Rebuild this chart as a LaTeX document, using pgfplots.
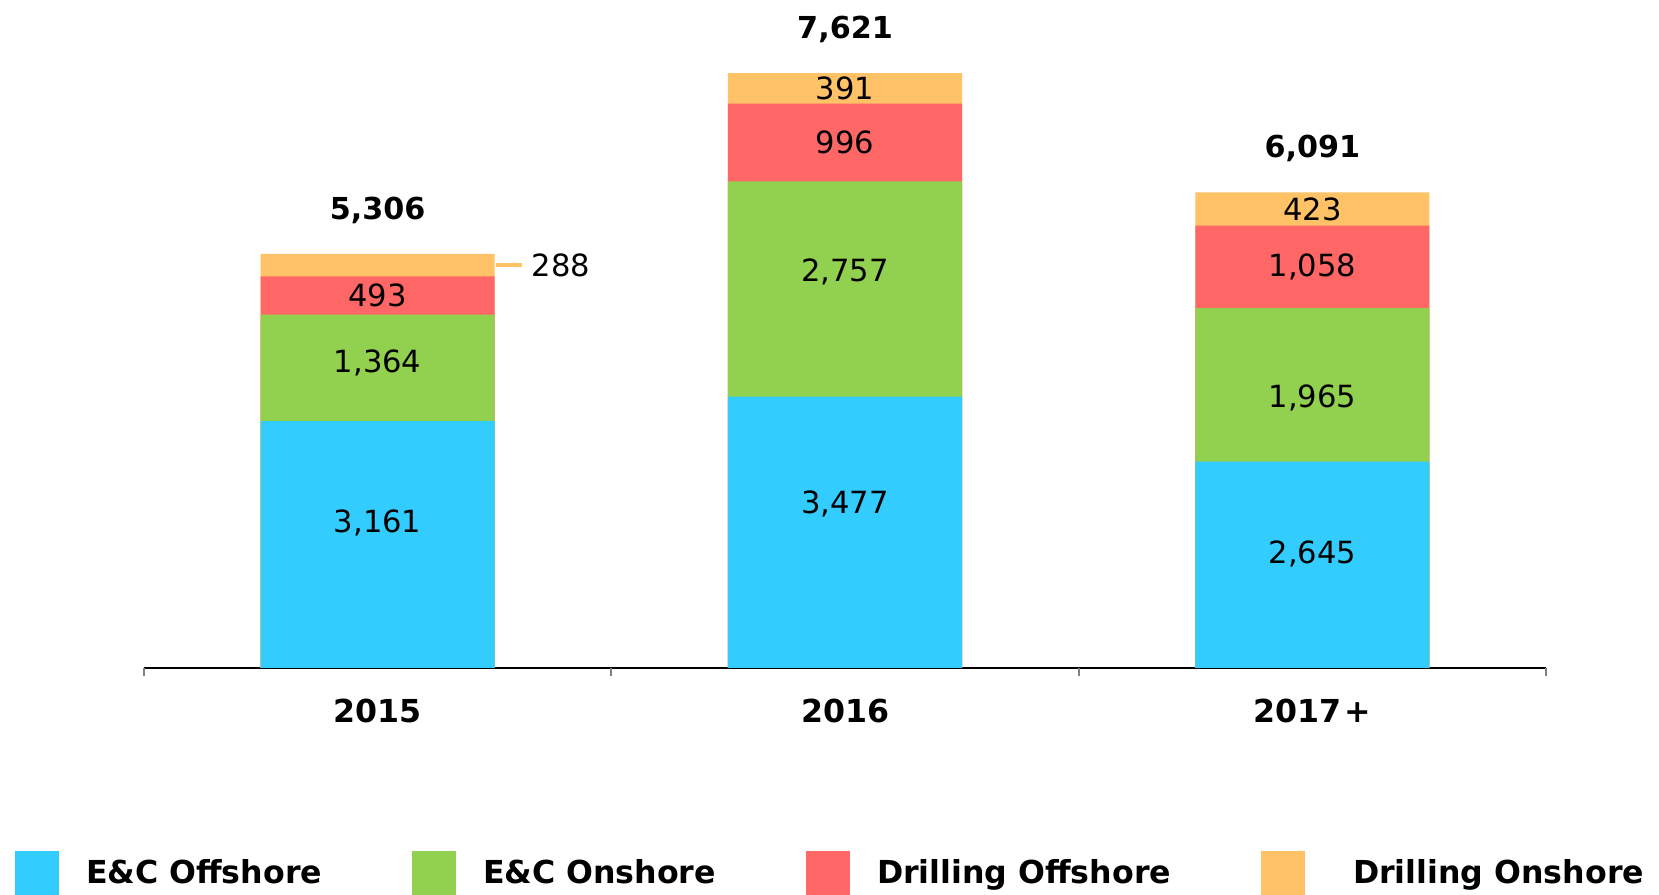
\documentclass[border=0pt]{standalone}
\usepackage{fontspec}
\setmainfont{DejaVu Sans}
\usepackage{pgfplots}
\usepackage{pgfplotstable}
\pgfplotsset{compat=1.18}

\definecolor{cOff}{HTML}{33CCFF}
\definecolor{cOn}{HTML}{92D050}
\definecolor{cDOff}{HTML}{FF6666}
\definecolor{cDOn}{HTML}{FFC266}

% backlog by segment; offlab/onlab = where the big segment labels sit
\pgfplotstableread{
x  off   on    doff  don  tot   offlab  onlab
0  3161  1364  493   288  5306  1858    3906
1  3477  2757  996   391  7621  2102    5072
2  2645  1965  1058  423  6091  1465    3458
}\backlog

\begin{document}
\begin{tikzpicture}
\useasboundingbox (-40.97pt,-64.58pt) rectangle (431.03pt,190.05pt);
\begin{axis}[
  scale only axis, width=398.9pt, height=188.8pt,
  xmin=-0.5, xmax=2.5, ymin=0, ymax=8500,
  clip=false,
  axis x line*=bottom, axis y line=none,
  x axis line style={-, line width=0.6pt, black},
  xtick={0,1,2}, xticklabels={2015,2016,2017\kern0.8pt+},
  major tick length=0pt,
  xticklabel style={font=\fontsize{9}{10}\selectfont\bfseries, anchor=center, yshift=-12.2pt},
  extra x ticks={-0.5,0.5,1.5,2.5}, extra x tick labels={},
  extra x tick style={major tick length=2.2pt, tick align=outside, tick style={draw=gray, line width=0.5pt}},
  ytick=\empty,
  /pgf/number format/fixed, /pgf/number format/precision=0,
  /pgf/number format/1000 sep={,}, /pgf/number format/assume math mode=true,
  every node near coord/.append style={font=\fontsize{8.7}{10}\selectfont, inner sep=0pt, text=black},
  legend image code/.code={\fill[#1, draw=none] (0pt,-5.8pt) rectangle (12.6pt,6.8pt);},
  legend columns=4,
  legend style={at={(axis description cs:-0.092,0)}, anchor=south west, yshift=-64.58pt,
    draw=none, fill=none, inner sep=0pt, outer sep=0pt,
    nodes={inner sep=0pt}, font=\fontsize{9}{10}\selectfont\bfseries,
    /tikz/every odd column/.append style={column sep=7.6pt},
    /tikz/every even column/.append style={column sep=25.6pt}},
  legend cell align=left,
]
\addlegendimage{fill=cOff}
\addlegendentry{E\&C Offshore}
\addlegendimage{fill=cOn}
\addlegendentry{E\&C Onshore}
\addlegendimage{fill=cDOff}
\addlegendentry{Drilling Offshore}
\addlegendimage{fill=cDOn}
\addlegendentry{\hspace{6pt}Drilling Onshore}

% bars, drawn from the full total down so each segment covers the one above
\addplot[ybar, bar width=66.6pt, bar shift=0pt, fill=cDOn, draw=none, forget plot]
  table[x=x, y=tot]{\backlog};
\addplot[ybar, bar width=66.6pt, bar shift=0pt, fill=cDOff, draw=none, forget plot]
  table[x=x, y expr=\thisrow{off}+\thisrow{on}+\thisrow{doff}]{\backlog};
\addplot[ybar, bar width=66.6pt, bar shift=0pt, fill=cOn, draw=none, forget plot]
  table[x=x, y expr=\thisrow{off}+\thisrow{on}]{\backlog};
\addplot[ybar, bar width=66.6pt, bar shift=0pt, fill=cOff, draw=none, forget plot]
  table[x=x, y=off]{\backlog};

% segment labels
\addplot[draw=none, mark=none, forget plot, nodes near coords, nodes near coords align={center},
  point meta=\thisrow{off}] table[x=x, y=offlab]{\backlog};
\addplot[draw=none, mark=none, forget plot, nodes near coords, nodes near coords align={center},
  point meta=\thisrow{on}] table[x=x, y=onlab]{\backlog};
\addplot[draw=none, mark=none, forget plot, nodes near coords, nodes near coords align={center},
  point meta=\thisrow{doff}] table[x=x, y expr=\thisrow{off}+\thisrow{on}+\thisrow{doff}/2]{\backlog};
\addplot[draw=none, mark=none, forget plot, nodes near coords, nodes near coords align={center},
  skip coords between index={0}{1},
  point meta=\thisrow{don}] table[x=x, y expr=\thisrow{tot}-\thisrow{don}/2]{\backlog};
% 2015 onshore drilling is too thin, label sits outside with a leader
\addplot[draw=none, mark=none, forget plot, nodes near coords={\textcolor{cDOn}{\rule[2.6pt]{7.4pt}{1.2pt}}\hspace{2.6pt}\pgfmathprintnumber{\pgfplotspointmeta}},
  nodes near coords align={west}, every node near coord/.append style={xshift=33.6pt},
  skip coords between index={1}{3},
  point meta=\thisrow{don}] table[x=x, y expr=\thisrow{tot}-\thisrow{don}/2]{\backlog};

% totals
\addplot[draw=none, mark=none, forget plot, nodes near coords, nodes near coords align={south},
  every node near coord/.append style={yshift=8.4pt, font=\fontsize{8.6}{10}\selectfont\bfseries},
  point meta=\thisrow{tot}] table[x=x, y=tot]{\backlog};
\end{axis}
\end{tikzpicture}
\end{document}
